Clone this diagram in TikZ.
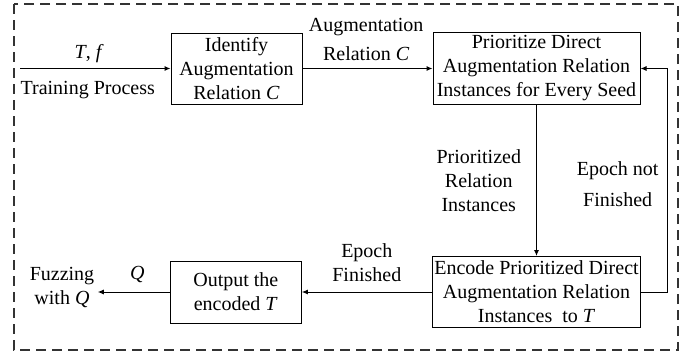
\documentclass[tikz,border=0pt]{standalone}
\usepackage{fontspec}
\setmainfont{Liberation Serif}
\newfontfamily\timesf{Liberation Serif}
\usetikzlibrary{positioning,arrows.meta}
\tikzset{node distance=130pt, auto,
  every node/.style={font=\timesf\fontsize{20}{24}\selectfont, align=center},
  blk/.style={draw, line width=1pt, inner sep=2pt},
  flow/.style={line width=1pt, -{Latex[length=6pt,width=5pt]}},
  frame/.style={draw=black!80, line width=1.2pt, dash pattern=on 10pt off 6pt}}

\begin{document}
\begin{tikzpicture}[x=1pt,y=1pt]
\useasboundingbox (0,0) rectangle (699,-356);
\draw[frame] (14,-4) rectangle (678,-350);
\node[blk, minimum width=131pt, minimum height=71pt] (ident) at (236.5,-68.5) {Identify\\Augmentation\\Relation \textit{C}};
\node[blk, minimum width=207pt, minimum height=72pt] (prio) [right=130pt of ident] {Prioritize Direct\\Augmentation Relation\\Instances for Every Seed};
\node[blk, minimum width=207pt, minimum height=71pt] (enc) [below=151pt of prio] {Encode Prioritized Direct\\Augmentation Relation\\Instances\ \ to \textit{T}};
\node[blk, minimum width=131pt, minimum height=62pt] (outp) [left=130pt of enc] {Output the\\encoded \textit{T}};
\node (fuzz) at (62,-287) {Fuzzing\\with \textit{Q}};
\coordinate (src) at (20,-68.5);
\coordinate (back) at (667,-180);
% forward flow
\draw[flow] (src) to node[above, pos=0.46, inner sep=5pt] {\textit{T}, \textit{f}} node[below, pos=0.45, inner sep=12pt] {Training Process} (ident);
\draw[flow] (ident) to node[above, pos=0.49, inner sep=7pt, font=\timesf\fontsize{20}{29}\selectfont] {Augmentation\\Relation \textit{C}} (prio);
\draw[flow] (prio) to node[left, inner sep=15pt] {Prioritized\\Relation\\Instances} (enc);
% loop back while epoch runs
\draw[flow] (enc.east) -- (back |- enc.east) to node[left, inner sep=8pt, yshift=-4pt, font=\timesf\fontsize{20}{31}\selectfont] {Epoch not\\Finished} (back |- prio.east) -- (prio.east);
\draw[flow] (enc.west |- outp) to node[above, inner sep=10pt] {Epoch\\Finished} (outp);
\draw[flow] (outp.west) to node[above, pos=0.45, inner sep=9pt] {\textit{Q}} (outp.west -| fuzz.east);
\end{tikzpicture}
\end{document}
